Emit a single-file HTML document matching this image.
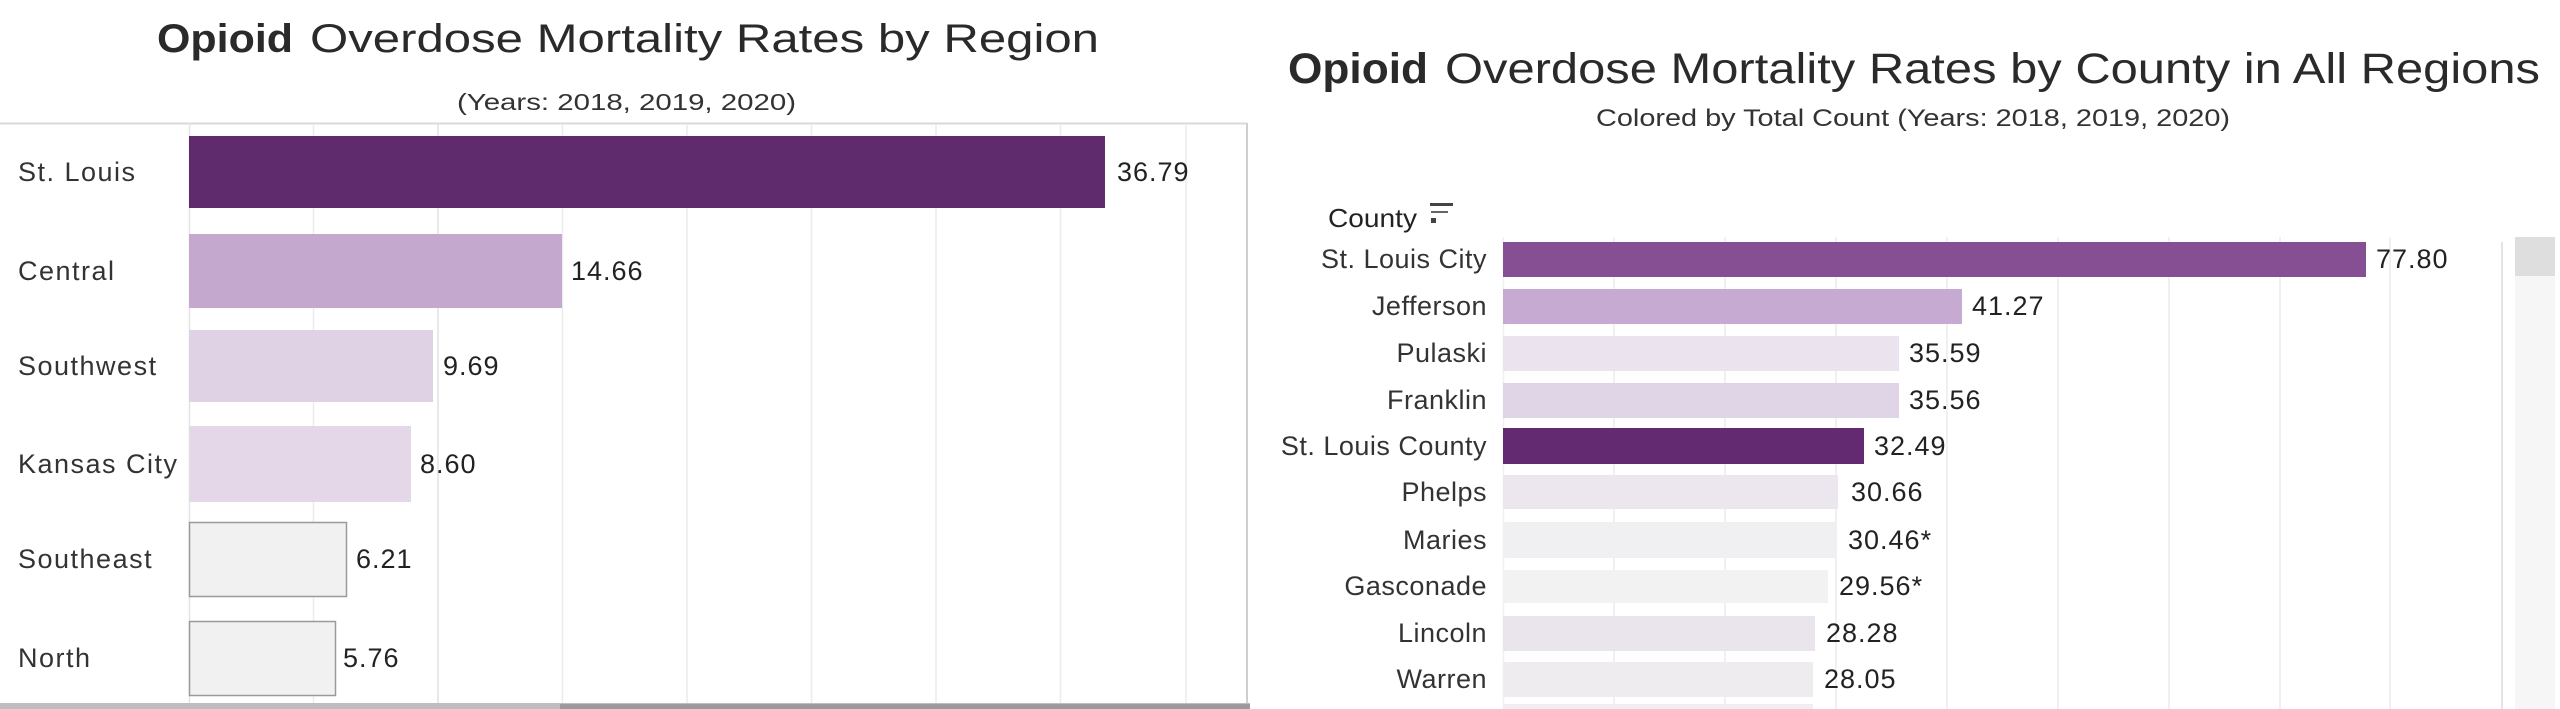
<!DOCTYPE html>
<html>
<head>
<meta charset="utf-8">
<style>
  html, body { margin: 0; padding: 0; background: #ffffff; }
  body { width: 2560px; height: 709px; overflow: hidden; }
  svg { display: block; }
  text { font-family: "Liberation Sans", Arial, sans-serif; }
  .ttl { font-size: 40px; fill: #2a2a2a; }
  .sub { font-size: 23px; fill: #333; }
  .lbl { font-size: 27px; fill: #333; letter-spacing: 1.5px; }
  .val { font-size: 27px; fill: #222; letter-spacing: 1px; }
</style>
</head>
<body>
<svg width="2560" height="709" viewBox="0 0 2560 709" xmlns="http://www.w3.org/2000/svg">
  <rect x="0" y="0" width="2560" height="709" fill="#ffffff"/>

  <!-- ================= LEFT CHART ================= -->
  <text x="157" y="52" class="ttl" font-weight="bold" textLength="136" lengthAdjust="spacingAndGlyphs">Opioid</text>
  <text x="310" y="52" class="ttl" textLength="789" lengthAdjust="spacingAndGlyphs">Overdose Mortality Rates by Region</text>
  <text x="457" y="110" class="sub" textLength="339" lengthAdjust="spacingAndGlyphs">(Years: 2018, 2019, 2020)</text>

  <!-- frame -->
  <line x1="0" y1="123.5" x2="1247" y2="123.5" stroke="#d9d9d9" stroke-width="2"/>
  <line x1="1247" y1="123" x2="1247" y2="705" stroke="#cfcfcf" stroke-width="2"/>
  <line x1="189.5" y1="123" x2="189.5" y2="705" stroke="#e4e4e4" stroke-width="1.5"/>
  <!-- gridlines -->
  <g stroke="#ececec" stroke-width="1.5">
    <line x1="313.5" y1="124" x2="313.5" y2="704"/>
    <line x1="438" y1="124" x2="438" y2="704" stroke="#e2e2e2"/>
    <line x1="562.5" y1="124" x2="562.5" y2="704"/>
    <line x1="687" y1="124" x2="687" y2="704"/>
    <line x1="811.5" y1="124" x2="811.5" y2="704"/>
    <line x1="936" y1="124" x2="936" y2="704"/>
    <line x1="1060.5" y1="124" x2="1060.5" y2="704"/>
    <line x1="1186" y1="124" x2="1186" y2="704"/>
  </g>
  <!-- bottom edge -->
  <rect x="0" y="703" width="1250" height="6" fill="#bdbdbd"/>
  <rect x="560" y="704" width="690" height="5" fill="#9a9a9a"/>

  <!-- bars -->
  <rect x="189" y="136" width="916" height="72" fill="#5f2b6d"/>
  <rect x="189" y="234" width="373" height="74" fill="#c5a8cd"/>
  <rect x="189" y="330" width="244" height="72" fill="#dfd2e4"/>
  <rect x="189" y="426" width="222" height="76" fill="#e4d8e8"/>
  <rect x="189.5" y="522.5" width="157" height="74" fill="#f1f1f1" stroke="#9a9a9a" stroke-width="1.5"/>
  <rect x="189.5" y="621.5" width="146" height="74" fill="#f1f1f1" stroke="#9a9a9a" stroke-width="1.5"/>

  <!-- labels -->
  <text x="18" y="181" class="lbl">St. Louis</text>
  <text x="18" y="280" class="lbl">Central</text>
  <text x="18" y="375" class="lbl">Southwest</text>
  <text x="18" y="473" class="lbl">Kansas City</text>
  <text x="18" y="568" class="lbl">Southeast</text>
  <text x="18" y="667" class="lbl">North</text>

  <!-- values -->
  <text x="1117" y="181" class="val">36.79</text>
  <text x="571" y="280" class="val">14.66</text>
  <text x="443" y="375" class="val">9.69</text>
  <text x="420" y="473" class="val">8.60</text>
  <text x="356" y="568" class="val">6.21</text>
  <text x="343" y="667" class="val">5.76</text>

  <!-- ================= RIGHT CHART ================= -->
  <text x="1288" y="83" class="ttl" style="font-size:43px" font-weight="bold" textLength="140" lengthAdjust="spacingAndGlyphs">Opioid</text>
  <text x="1445" y="83" class="ttl" style="font-size:43px" textLength="1095" lengthAdjust="spacingAndGlyphs">Overdose Mortality Rates by County in All Regions</text>
  <text x="1596" y="126" class="sub" style="font-size:24px" textLength="634" lengthAdjust="spacingAndGlyphs">Colored by Total Count (Years: 2018, 2019, 2020)</text>

  <!-- County header + sort icon -->
  <text x="1328" y="227" style="font-size:26px; fill:#222" textLength="89" lengthAdjust="spacingAndGlyphs">County</text>
  <rect x="1430" y="203" width="23" height="3" fill="#444"/>
  <rect x="1431" y="211" width="17" height="2" fill="#666"/>
  <rect x="1431" y="218" width="5" height="5" fill="#444"/>

  <!-- gridlines -->
  <g stroke="#ececec" stroke-width="1.5">
    <line x1="1503.5" y1="237" x2="1503.5" y2="709" stroke="#f0f0f0"/>
    <line x1="1614" y1="237" x2="1614" y2="709"/>
    <line x1="1725" y1="237" x2="1725" y2="709"/>
    <line x1="1836" y1="237" x2="1836" y2="709"/>
    <line x1="1947" y1="237" x2="1947" y2="709"/>
    <line x1="2058" y1="237" x2="2058" y2="709"/>
    <line x1="2169" y1="237" x2="2169" y2="709"/>
    <line x1="2280" y1="237" x2="2280" y2="709"/>
    <line x1="2390" y1="237" x2="2390" y2="709"/>
    <line x1="2502" y1="242" x2="2502" y2="709" stroke="#dcdcdc"/>
  </g>

  <!-- scrollbar -->
  <rect x="2515" y="276" width="40" height="433" fill="#f6f6f6"/>
  <rect x="2515" y="237" width="40" height="39" fill="#dedede"/>

  <!-- bars -->
  <rect x="1503" y="242" width="863" height="35" fill="#874f93"/>
  <rect x="1503" y="289" width="459" height="35" fill="#c6aad2"/>
  <rect x="1503" y="336" width="396" height="35" fill="#ebe4ee"/>
  <rect x="1503" y="383" width="396" height="35" fill="#e0d5e6"/>
  <rect x="1503" y="428" width="361" height="36" fill="#632a71"/>
  <rect x="1503" y="475" width="335" height="34" fill="#ece6ef"/>
  <rect x="1503" y="522" width="334" height="36" fill="#f0eff2"/>
  <rect x="1503" y="570" width="325" height="33" fill="#f2f2f2"/>
  <rect x="1503" y="616" width="312" height="35" fill="#eae4ed"/>
  <rect x="1503" y="662" width="310" height="35" fill="#efecf0"/>
  <rect x="1503" y="704" width="310" height="5" fill="#f0eef1"/>

  <!-- labels -->
  <g class="lbl" text-anchor="end" style="letter-spacing:0.5px">
    <text x="1487" y="268" class="lbl" style="letter-spacing:0.5px">St. Louis City</text>
    <text x="1487" y="315" class="lbl" style="letter-spacing:0.5px">Jefferson</text>
    <text x="1487" y="362" class="lbl" style="letter-spacing:0.5px">Pulaski</text>
    <text x="1487" y="409" class="lbl" style="letter-spacing:0.5px">Franklin</text>
    <text x="1487" y="455" class="lbl" style="letter-spacing:0.5px">St. Louis County</text>
    <text x="1487" y="501" class="lbl" style="letter-spacing:0.5px">Phelps</text>
    <text x="1487" y="549" class="lbl" style="letter-spacing:0.5px">Maries</text>
    <text x="1487" y="595" class="lbl" style="letter-spacing:0.5px">Gasconade</text>
    <text x="1487" y="642" class="lbl" style="letter-spacing:0.5px">Lincoln</text>
    <text x="1487" y="688" class="lbl" style="letter-spacing:0.5px">Warren</text>
  </g>

  <!-- values -->
  <text x="2376" y="268" class="val">77.80</text>
  <text x="1972" y="315" class="val">41.27</text>
  <text x="1909" y="362" class="val">35.59</text>
  <text x="1909" y="409" class="val">35.56</text>
  <text x="1874" y="455" class="val">32.49</text>
  <text x="1851" y="501" class="val">30.66</text>
  <text x="1848" y="549" class="val">30.46*</text>
  <text x="1839" y="595" class="val">29.56*</text>
  <text x="1826" y="642" class="val">28.28</text>
  <text x="1824" y="688" class="val">28.05</text>
</svg>
</body>
</html>
